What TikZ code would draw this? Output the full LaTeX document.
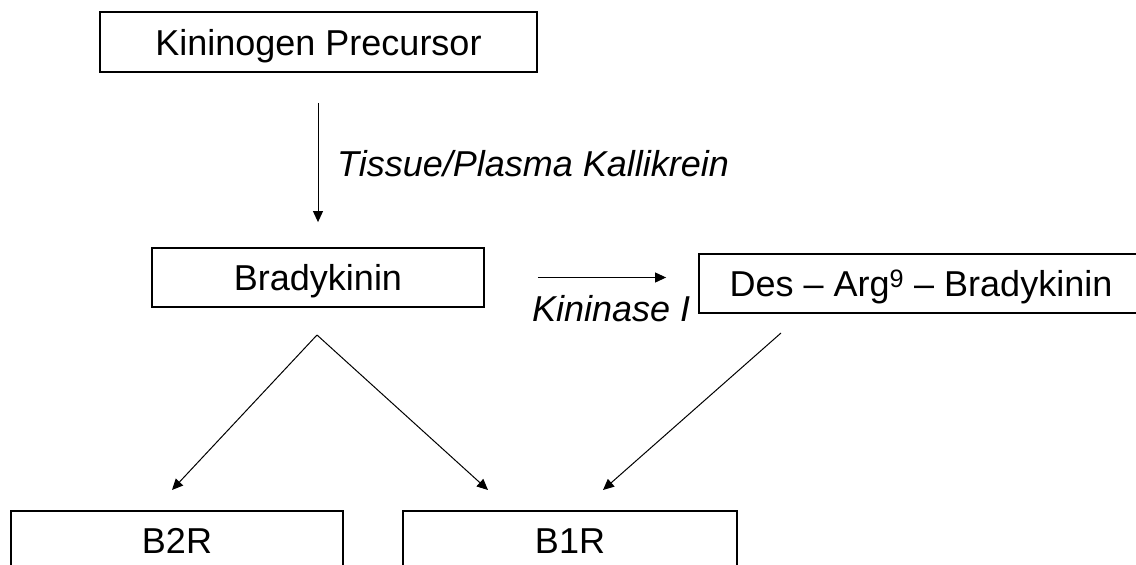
\documentclass[tikz,border=0pt]{standalone}
\usepackage{fontspec}
\setmainfont{Liberation Sans}
\usetikzlibrary{arrows.meta,positioning}
\tikzset{
  box/.style={draw=black,line width=1.8pt,inner sep=0pt,align=center,text height=26pt,text depth=0pt,font=\fontsize{36}{43}\selectfont},
  lbl/.style={inner sep=0pt,anchor=west,text height=26pt,text depth=0pt,font=\fontsize{36}{43}\selectfont\itshape},
  ar/.style={-{Triangle[length=11pt,width=10pt]},draw=black,line width=1pt},
}

\begin{document}
\begin{tikzpicture}[x=1pt,y=-1pt]
  \useasboundingbox (0,0) rectangle (1136,565);
  \clip (0,0) rectangle (1136,565);
  % ── boxes ──
  \node[box,minimum width=437pt,minimum height=60pt] (prec) at (318.5,42) {Kininogen Precursor};
  \node[box,minimum width=332pt,minimum height=59pt] (brady) at (318,277.5) {Bradykinin};
  \node[box,minimum width=444pt,minimum height=59pt] (desarg) at (921,283.5) {Des -- Arg\textsuperscript{9} -- Bradykinin};
  \node[box,minimum width=332pt,minimum height=58pt] (btwo) at (177,540) {B2R};
  \node[box,minimum width=334pt,minimum height=58pt] (bone) at (570,540) {B1R};
  % ── enzymes ──
  \node[lbl] (kal) at (337,163) {Tissue/Plasma Kallikrein};
  \node[lbl] (kin) at (532,308) {Kininase I};
  % ── free ends ──
  \coordinate (split) at (317,335);
  \coordinate (dstart) at (781,333);
  \coordinate (tbtwo) at (172,490);
  \coordinate (tbonea) at (488,490);
  \coordinate (tboneb) at (603,490);
  % ── arrows ──
  \draw[ar,shorten <=30pt,shorten >=25pt] (prec.south -| brady.north) -- (brady.north);
  \draw[ar,shorten <=53pt,shorten >=32pt] (brady.east) -- (brady.east -| desarg.west);
  \draw[ar] (split) -- (tbtwo);
  \draw[ar] (split) -- (tbonea);
  \draw[ar] (dstart) -- (tboneb);
\end{tikzpicture}
\end{document}
